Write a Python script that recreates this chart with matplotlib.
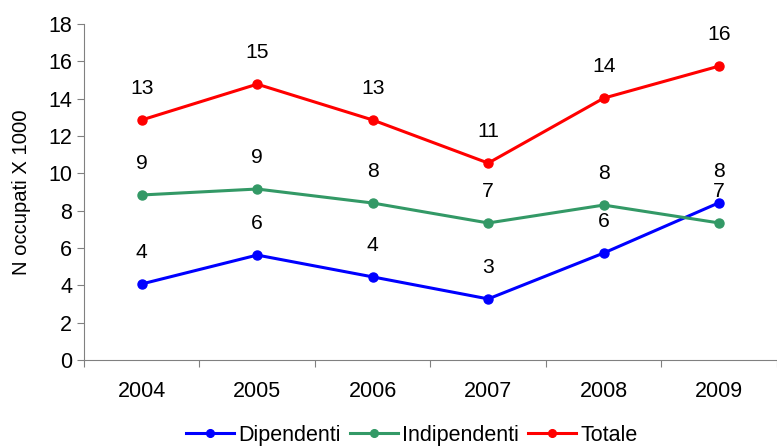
import numpy as np
import matplotlib.pyplot as plt

plt.rcParams['font.family'] = ['Liberation Sans', 'DejaVu Sans']

anni = ['2004', '2005', '2006', '2007', '2008', '2009']
dipendenti = [4.07, 5.62, 4.45, 3.27, 5.73, 8.43]
indipendenti = [8.84, 9.16, 8.41, 7.34, 8.30, 7.34]
totale = [12.86, 14.78, 12.86, 10.55, 14.03, 15.75]

serie = [('Dipendenti', dipendenti, '#0000ff'),
         ('Indipendenti', indipendenti, '#339966'),
         ('Totale', totale, '#ff0000')]

fig = plt.figure(figsize=(7.77, 4.46), dpi=100)
ax = fig.add_axes([0.108, 0.193, 0.892, 0.753])

x = np.arange(len(anni)) + 0.5
for nome, valori, col in serie:
    ax.plot(x, valori, color=col, lw=2.2, marker='o', ms=6.5, label=nome)
    for xi, v in zip(x, valori):
        ax.annotate(f"{v:.0f}", (xi, v), xytext=(0, 22.5), textcoords='offset points',
                    ha='center', va='center', fontsize=15.2)

ax.set_xlim(0, 6)
ax.set_ylim(0, 18)
ax.set_yticks(range(0, 19, 2))
ax.set_xticks(range(0, 7))
ax.set_xticklabels([])
ax.set_xticks(x, minor=True)
ax.set_xticklabels(anni, minor=True, fontsize=15.5)
ax.tick_params(axis='x', which='minor', length=0, pad=15)
ax.tick_params(axis='both', which='major', direction='out', length=5, color='#808080', labelsize=15.5)
ax.set_ylabel('N occupati X 1000', fontsize=14.6, labelpad=12)
for s in ['top', 'right']:
    ax.spines[s].set_visible(False)
for s in ['left', 'bottom']:
    ax.spines[s].set_color('#808080')

ax.legend(loc='center', bbox_to_anchor=(0.53, 0.024), bbox_transform=fig.transFigure, ncol=3,
          frameon=False, fontsize=15.5, handlelength=2.2, handletextpad=0.2, columnspacing=0.45,
          borderaxespad=0, borderpad=0, markerscale=0.85)

fig.savefig('out.png')
